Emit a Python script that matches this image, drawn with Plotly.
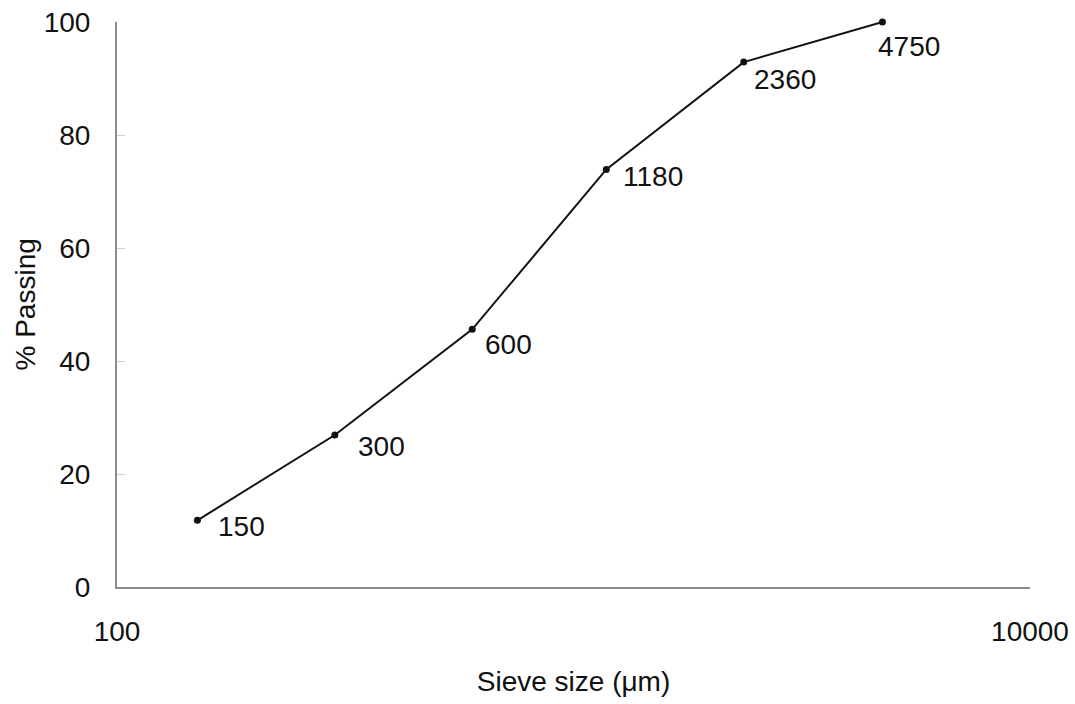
import math
import plotly.graph_objects as go

sieve_sizes = [150, 300, 600, 1180, 2360, 4750]
percent_passing = [11.8, 26.9, 45.6, 73.9, 92.9, 100]
point_labels = ["150", "300", "600", "1180", "2360", "4750"]
x_tick_vals = [100, 10000]
x_tick_text = ["100", "10000"]
y_tick_vals = [0, 20, 40, 60, 80, 100]

label_offsets = [(19, -6), (21, -11), (11, -15), (15, -7), (8, -17), (-6, -24)]

FONT = "Liberation Sans, Arial, sans-serif"
INK = "#111111"
AXIS = "#8c8c8c"

fig = go.Figure()
fig.add_trace(go.Scatter(
    x=sieve_sizes, y=percent_passing, mode="lines+markers",
    line=dict(color=INK, width=2),
    marker=dict(color=INK, size=7),
    showlegend=False, hoverinfo="skip", cliponaxis=False,
))

for xv, yv, txt, (dx, dy) in zip(sieve_sizes, percent_passing, point_labels, label_offsets):
    fig.add_annotation(x=math.log10(xv), y=yv, xref="x", yref="y", text=txt, showarrow=False,
                       xanchor="left", yanchor="middle", xshift=dx, yshift=dy,
                       font=dict(family=FONT, size=28, color=INK))

# y-axis title placed as a rotated annotation for exact positioning
fig.add_annotation(x=0, y=0.5, xref="paper", yref="paper", text="% Passing", showarrow=False,
                   textangle=-90, xanchor="center", yanchor="middle", xshift=-92,
                   font=dict(family=FONT, size=28, color=INK))

fig.update_layout(
    width=1075, height=704,
    margin=dict(l=117, r=45, t=22, b=117),
    paper_bgcolor="white", plot_bgcolor="white",
    font=dict(family=FONT, size=28, color=INK),
    xaxis=dict(type="log", range=[2, 4], tickvals=x_tick_vals, ticktext=x_tick_text,
               showgrid=False, zeroline=False, showline=True, linecolor=AXIS, linewidth=2,
               ticks="", ticklabelstandoff=18, automargin=False,
               title=dict(text="Sieve size (μm)", standoff=26, font=dict(size=28))),
    yaxis=dict(range=[0, 100], tickvals=y_tick_vals,
               showgrid=False, zeroline=False, showline=True, linecolor=AXIS, linewidth=2,
               ticks="inside", ticklen=8, tickcolor="#d0d0d0", ticklabelstandoff=19,
               automargin=False),
)

fig.write_html("out.html")
